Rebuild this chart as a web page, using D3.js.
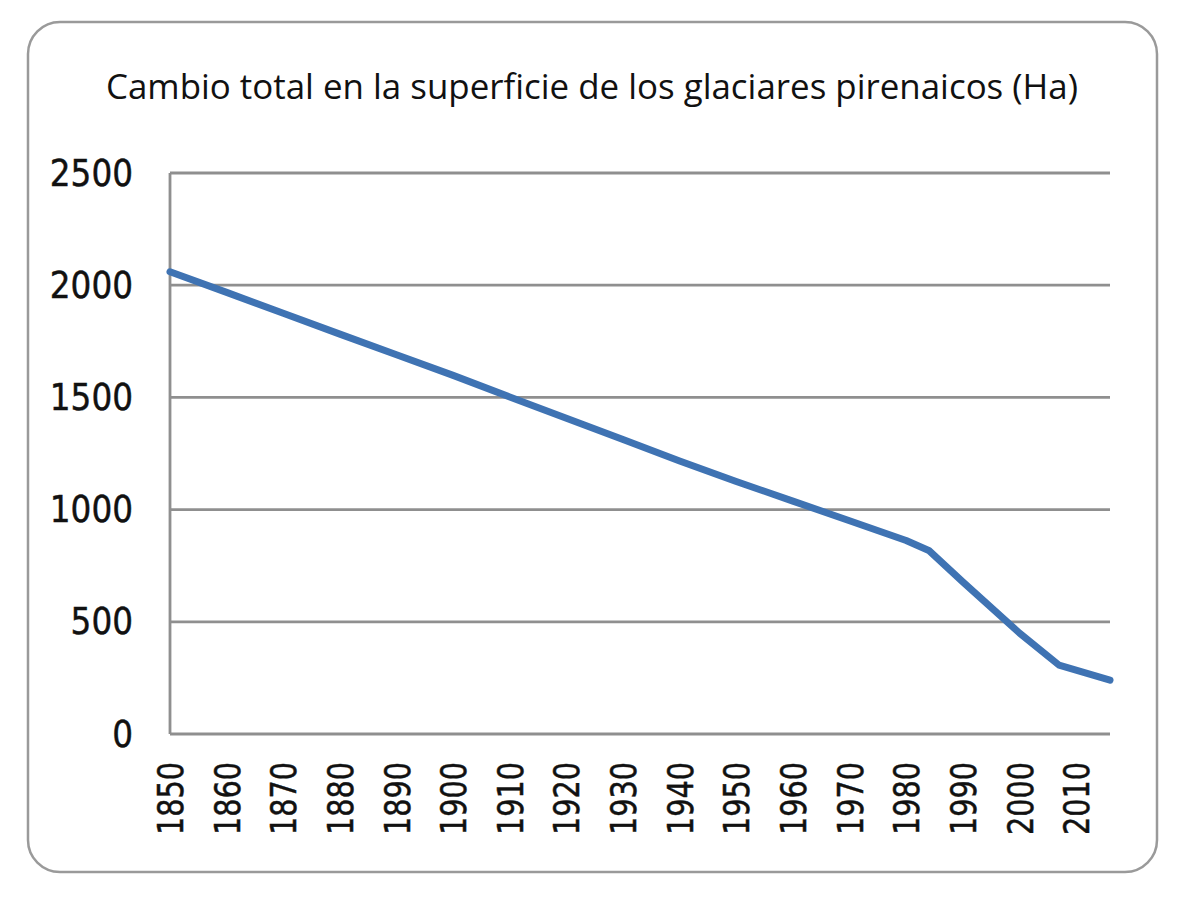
<!DOCTYPE html>
<html><head><meta charset="utf-8">
<script src="https://cdn.jsdelivr.net/npm/d3@7"></script>
<style>body{margin:0;background:#fff}</style>
</head><body>
<script>
const title = "Cambio total en la superficie de los glaciares pirenaicos (Ha)";
const years = [1850,1860,1870,1880,1890,1900,1910,1920,1930,1940,1950,1960,1970,1980,1984,1990,2000,2007,2016];
const values = [2060,1968,1875,1782,1690,1598,1502,1407,1312,1217,1125,1038,950,862,818,678,450,307,240];
const yTicks = [0,500,1000,1500,2000,2500];
const xTickLabels = [1850,1860,1870,1880,1890,1900,1910,1920,1930,1940,1950,1960,1970,1980,1990,2000,2010];

const W=1200,H=897;
const svg=d3.select("body").append("svg").attr("width",W).attr("height",H);
svg.append("rect").attr("x",28).attr("y",22).attr("width",1129).attr("height",850)
  .attr("rx",32).attr("fill","#fff").attr("stroke","#9a9a9a").attr("stroke-width",2.5);

svg.append("text").attr("x",592).attr("y",99).attr("text-anchor","middle")
  .attr("font-family","'Open Sans',sans-serif").attr("font-size",34).attr("fill","#111")
  .attr("textLength",972).attr("lengthAdjust","spacingAndGlyphs").text(title);

const x=d3.scaleLinear().domain([1850,2016]).range([170,1110]);
const y=d3.scaleLinear().domain([0,2500]).range([734,173]);

const g=svg.append("g");
g.selectAll("line.grid").data(yTicks).join("line").attr("class","grid")
  .attr("x1",170).attr("x2",1110).attr("y1",d=>y(d)).attr("y2",d=>y(d))
  .attr("stroke","#8f8f8f").attr("stroke-width",2.8);
g.append("line").attr("x1",170).attr("x2",170).attr("y1",y(2500)).attr("y2",y(0))
  .attr("stroke","#8f8f8f").attr("stroke-width",2.8);

const yAxis=d3.axisLeft(y).tickValues(yTicks).tickSize(0).tickPadding(37).tickFormat(d3.format("d"));
const ya=svg.append("g").attr("transform","translate(170,0)").call(yAxis);
ya.select(".domain").remove();
ya.selectAll("text").attr("font-family","'DejaVu Sans',sans-serif").attr("font-size",38).attr("fill","#111")
  .attr("stroke","#111").attr("stroke-width",0.5)
  .attr("textLength",d=>String(d).length*20.8).attr("lengthAdjust","spacingAndGlyphs");

const xAxis=d3.axisBottom(x).tickValues(xTickLabels).tickSize(0).tickFormat(d3.format("d"));
const xa=svg.append("g").attr("transform","translate(0,734)").call(xAxis);
xa.select(".domain").remove();
xa.selectAll("text").attr("font-family","'DejaVu Sans',sans-serif").attr("font-size",35).attr("fill","#111")
  .attr("stroke","#111").attr("stroke-width",0.5)
  .attr("textLength",73).attr("lengthAdjust","spacingAndGlyphs")
  .attr("transform","rotate(-90)").attr("text-anchor","end").attr("x",-28).attr("y",0).attr("dy","0.36em");

const line=d3.line().x((d,i)=>x(years[i])).y(d=>y(d));
svg.append("path").datum(values).attr("d",line).attr("fill","none")
  .attr("stroke","#3f73b3").attr("stroke-width",7).attr("stroke-linejoin","round").attr("stroke-linecap","round");
</script>
</body></html>
